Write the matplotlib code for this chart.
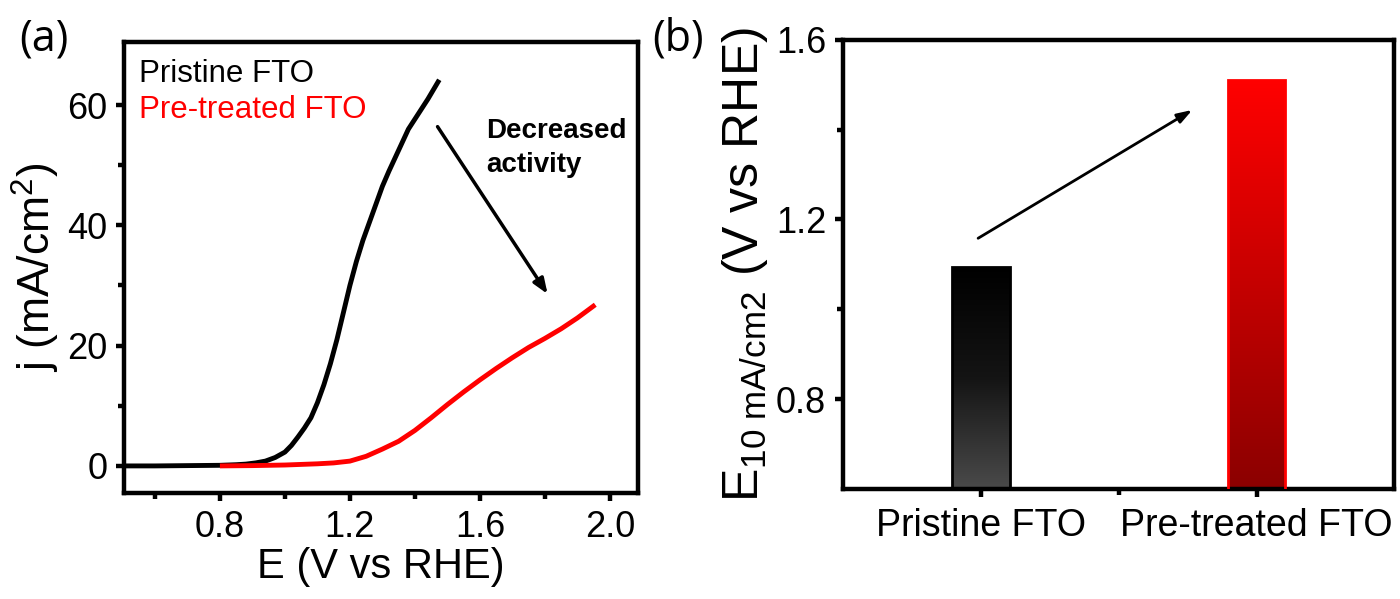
import numpy as np
import matplotlib
matplotlib.use("Agg")
import matplotlib.pyplot as plt
from matplotlib.colors import LinearSegmentedColormap

plt.rcParams['font.family'] = ['Liberation Sans', 'DejaVu Sans']
plt.rcParams['mathtext.fontset'] = 'custom'
plt.rcParams['mathtext.rm'] = 'Liberation Sans'
plt.rcParams['mathtext.it'] = 'Liberation Sans'

# panel (a) LSV curves
e_pristine = [0.50, 0.60, 0.70, 0.80, 0.85, 0.88, 0.91, 0.94, 0.97, 1.00, 1.02, 1.04,
              1.06, 1.08, 1.10, 1.12, 1.14, 1.16, 1.18, 1.20, 1.22, 1.24, 1.26, 1.28,
              1.30, 1.32, 1.35, 1.38, 1.41, 1.44, 1.475]
j_pristine = [0.0, 0.0, 0.05, 0.1, 0.2, 0.3, 0.5, 0.8, 1.4, 2.3, 3.4, 4.8,
              6.3, 8.0, 10.5, 13.5, 17.0, 21.0, 25.5, 30.0, 34.0, 37.5, 40.5, 43.5,
              46.5, 49.0, 52.5, 56.0, 58.5, 61.0, 64.2]
e_treated = [0.80, 0.90, 1.00, 1.10, 1.15, 1.20, 1.25, 1.30, 1.35, 1.40, 1.45, 1.50,
             1.55, 1.60, 1.65, 1.70, 1.75, 1.80, 1.85, 1.90, 1.955]
j_treated = [0.0, 0.05, 0.15, 0.35, 0.5, 0.8, 1.6, 2.8, 4.1, 5.9, 8.0, 10.2,
             12.3, 14.3, 16.2, 18.0, 19.7, 21.2, 22.8, 24.6, 26.8]

# panel (b) bars
samples = ['Pristine FTO', 'Pre-treated FTO']
e10 = [1.095, 1.51]

fig = plt.figure(figsize=(14, 5.99), dpi=100)

# ---------- (a) ----------
ax1 = fig.add_axes([0.0886, 0.177, 0.367, 0.753])
ax1.plot(e_pristine, j_pristine, color='black', lw=3.5, solid_capstyle='butt')
ax1.plot(e_treated, j_treated, color='#ff0000', lw=3.5, solid_capstyle='butt')
ax1.set_xlim(0.505, 2.086)
ax1.set_ylim(-4.5, 70.5)
ax1.set_xticks([0.8, 1.2, 1.6, 2.0])
ax1.set_xticks([0.6, 1.0, 1.4, 1.8], minor=True)
ax1.set_yticks([0, 20, 40, 60])
ax1.set_yticks([10, 30, 50], minor=True)
ax1.set_xlabel('E (V vs RHE)', fontsize=30, labelpad=2)
ax1.set_ylabel('j (mA/cm$^2$)', fontsize=32, labelpad=4)
ax1.text(0.03, 0.93, 'Pristine FTO', color='black', fontsize=22.5,
         transform=ax1.transAxes, va='center')
ax1.text(0.03, 0.85, 'Pre-treated FTO', color='#ff0000', fontsize=22.5,
         transform=ax1.transAxes, va='center')
ax1.annotate('', xy=(1.813, 28.2), xytext=(1.465, 56.8),
             arrowprops=dict(arrowstyle='-|>,head_length=0.9,head_width=0.35',
                             color='black', lw=2.5))
ax1.text(1.62, 52.8, 'Decreased\nactivity', fontsize=20, fontweight='bold',
         va='center', ha='left', linespacing=1.4)
fig.text(0.014, 0.935, '(a)', fontsize=31, va='center', family='Open Sans')

# ---------- (b) ----------
ax2 = fig.add_axes([0.602, 0.1836, 0.394, 0.75])
x = np.arange(len(samples))
bars = ax2.bar(x, e10, width=0.21, color='none', zorder=3)

grey_map = LinearSegmentedColormap.from_list('g', ['#4a4a4a', '#141414', '#000000'])
red_map = LinearSegmentedColormap.from_list('r', ['#8b0000', '#ff0000'])
edges = ['black', '#ff0000']
for bar, cmap, ec in zip(bars, [grey_map, red_map], edges):
    x0, y0 = bar.get_x(), 0.6
    w, h = bar.get_width(), bar.get_height()
    grad = np.linspace(0, 1, 256).reshape(-1, 1)
    im = ax2.imshow(grad, cmap=cmap, origin='lower', aspect='auto',
                    extent=[x0, x0 + w, y0, h], zorder=2)
    im.set_clip_path(bar)
    bar.set_edgecolor(ec)
    bar.set_linewidth(2)
ax2.set_xlim(-0.5, 1.5)
ax2.set_ylim(0.6, 1.6)
ax2.set_xticks(x)
ax2.set_xticklabels(samples)
ax2.set_xticks([0.5], minor=True)
ax2.set_yticks([0.8, 1.2, 1.6])
ax2.set_yticks([1.0, 1.4], minor=True)
ax2.set_ylabel('E$_{10\\ mA/cm2}$ (V vs RHE)', fontsize=36, labelpad=4)
ax2.annotate('', xy=(0.776, 1.447), xytext=(-0.018, 1.155),
             arrowprops=dict(arrowstyle='-|>,head_length=0.9,head_width=0.3',
                             color='black', lw=2))
fig.text(0.466, 0.935, '(b)', fontsize=31, va='center', family='Open Sans')

for ax in (ax1, ax2):
    for s in ax.spines.values():
        s.set_linewidth(3.2)
    ax.tick_params(which='major', direction='out', length=6, width=3.2,
                   labelsize=26, pad=6)
    ax.tick_params(which='minor', direction='out', length=4, width=3.2)
ax2.tick_params(axis='x', labelsize=27, pad=8)

fig.savefig('out.png', dpi=100)
